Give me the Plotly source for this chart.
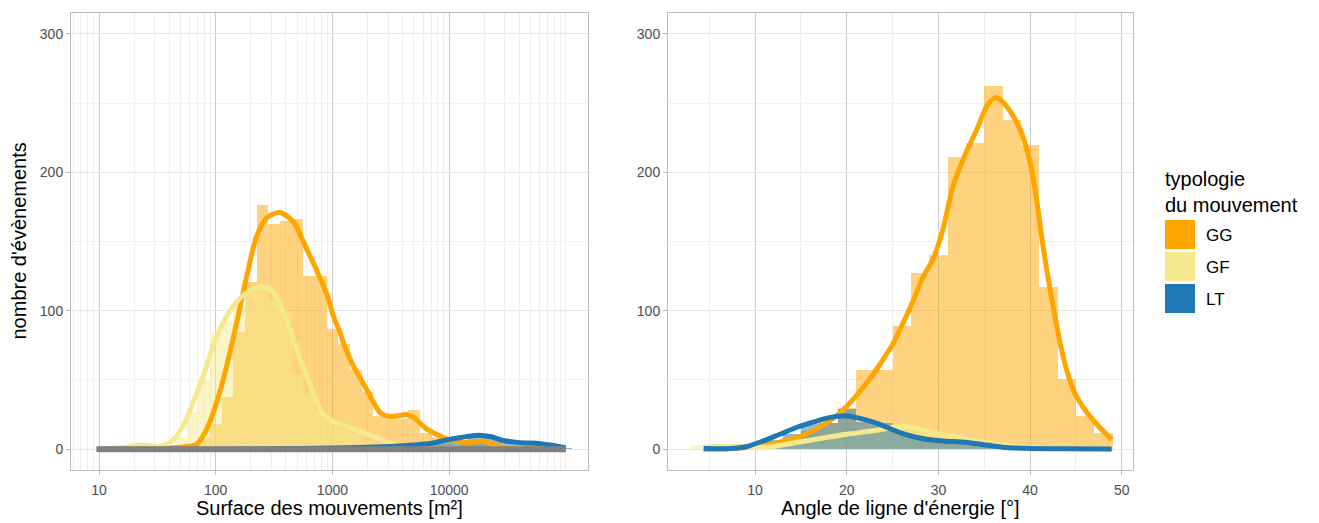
import numpy as np
import plotly.graph_objects as go

# ---------------- DATA ----------------
groups = ["GG", "GF", "LT"]
colors = {"GG": "#FFA500", "GF": "#F5E98E", "LT": "#1F77B4"}

# Left panel: histogram of surface (bin centres in log10(m²), binwidth 0.1)
area_bins = {
    "GG": [1.6, 1.7, 1.8, 1.9, 2.0, 2.1, 2.2, 2.3, 2.4, 2.5, 2.6, 2.7, 2.8, 2.9, 3.0, 3.1, 3.2, 3.3,
           3.4, 3.5, 3.6, 3.7, 3.8, 3.9, 4.0, 4.1, 4.2, 4.3, 4.4, 4.5],
    "GF": [1.3, 1.4, 1.5, 1.6, 1.7, 1.8, 1.9, 2.0, 2.1, 2.2, 2.3, 2.4, 2.5, 2.6, 2.7, 2.8, 2.9, 3.0,
           3.1, 3.2, 3.3, 3.4, 3.5, 3.6],
    "LT": [2.8, 3.2, 3.4, 3.6, 3.8, 3.9, 4.0, 4.1, 4.2, 4.3, 4.4, 4.5, 4.6, 4.7, 4.8, 4.9, 5.0],
}
area_counts = {
    "GG": [1, 1, 3, 8, 18, 38, 85, 121, 176, 163, 165, 166, 125, 125, 87, 76, 57, 41,
           24, 22, 22, 28, 12, 8, 4, 3, 4, 5, 2, 1],
    "GF": [1, 2, 1, 3, 9, 27, 50, 84, 92, 104, 114, 118, 108, 100, 54, 40, 27, 20,
           15, 11, 7, 4, 2, 1],
    "LT": [1, 1, 1, 2, 3, 4, 5, 7, 9, 11, 9, 5, 4, 4, 3, 2, 1],
}
area_binwidth = 0.1

# Left panel: density curves (x in log10(m²), y in counts)
area_dens_x = {
    "GG": [0.98, 1.3, 1.5, 1.64, 1.75, 1.837, 1.923, 2.009, 2.094, 2.18, 2.266, 2.352, 2.437,
           2.551, 2.666, 2.78, 2.866, 2.952, 3.009, 3.066, 3.094, 3.152, 3.18, 3.295, 3.409,
           3.495, 3.55, 3.638, 3.695, 3.81, 3.98, 4.15, 4.28, 4.44, 4.6, 4.8, 5.0],
    "GF": [0.98, 1.2, 1.38, 1.5, 1.608, 1.722, 1.808, 1.894, 1.98, 2.065, 2.151, 2.266, 2.38,
           2.466, 2.551, 2.666, 2.72, 2.78, 2.835, 2.894, 2.923, 3.009, 3.152, 3.295, 3.409,
           3.523, 3.65, 3.8, 4.2, 5.0],
    "LT": [0.98, 2.0, 2.5, 3.0, 3.3, 3.5, 3.7, 3.85, 3.98, 4.1, 4.2, 4.28, 4.36, 4.45, 4.55,
           4.65, 4.75, 4.85, 4.95, 5.0],
}
area_dens_y = {
    "GG": [0, 0, 0.3, 1, 2, 3.6, 14.5, 34, 60, 91.5, 125, 154, 167,
           171, 164, 144.5, 129, 112, 96, 84, 77, 65, 60, 43, 26.5,
           23.6, 24, 25, 23, 14.5, 7.5, 4.8, 6, 2, 0.5, 0.2, 0],
    "GF": [0, 1, 3, 2, 4.8, 17, 34, 53, 75, 91.5, 103.5, 113, 117,
           115.6, 105, 79.5, 66, 53, 41, 29, 25, 20, 15.6, 10.8, 7.2,
           3.6, 1.2, 0.4, 0, 0],
    "LT": [0, 0, 0.3, 0.8, 1.5, 2, 3, 4.3, 6.7, 8.5, 9.8, 10, 9, 6.5, 5.3,
           4.5, 4.3, 3.2, 1.8, 1],
}
area_other_x = [0.98, 5.0]
area_other_y = [0, 0]

area_tickvals = [1, 2, 3, 4]
area_ticktext = ["10", "100", "1000", "10000"]
minor_multipliers = [2, 3, 4, 5, 6, 7, 8, 9]

# Right panel: histogram of energy line angle (bin centres in degrees, binwidth 2)
angle_bins = {
    "GG": [10, 12, 14, 16, 18, 20, 22, 24, 26, 28, 30, 32, 34, 36, 38, 40, 42, 44, 46, 48],
    "GF": [4, 6, 8, 10, 12, 14, 16, 18, 20, 22, 24, 26, 28, 30, 32, 34, 36, 38, 40, 42],
    "LT": [8, 10, 12, 14, 16, 18, 20, 22, 24, 26, 28, 30, 32, 34, 36, 38, 40, 44],
}
angle_counts = {
    "GG": [1, 2, 5, 13, 19, 30, 57, 57, 89, 127, 140, 211, 221, 262, 238, 220, 117, 51, 24, 12],
    "GF": [3, 3, 3, 2, 2, 4, 7, 10, 13, 16, 20, 16, 12, 10, 7, 5, 3, 2, 1, 1],
    "LT": [1, 3, 7, 11, 18, 19, 29, 20, 19, 12, 8, 5, 4, 3, 2, 1, 1, 1],
}
angle_binwidth = 2

angle_dens_x = {
    "GG": [4.4, 7, 9, 10.5, 12.7, 14, 15.6, 17.8, 19.3, 20.7, 22.2, 23.6, 25.1, 26.2, 27.3, 28.3,
           29.4, 30.5, 31.6, 33.1, 34.2, 35.3, 36.25, 37.4, 38.9, 40.0, 40.7, 41.4, 42.5, 43.6,
           44.7, 46.2, 47.6, 48.9],
    "GF": [4.4, 6, 8, 10, 12, 14.5, 17.1, 20, 23.6, 25.5, 27.3, 29.4, 31.2, 33.1, 36.3, 40, 44, 48.9],
    "LT": [4.4, 7.3, 9.1, 10.9, 12.7, 14.5, 16.4, 18.2, 20.0, 21.8, 23.6, 24.7, 25.8, 27.3, 28.7,
           30.5, 33.1, 35.3, 37.4, 40, 44, 48.9],
}
angle_dens_y = {
    "GG": [0, 0.3, 1.2, 2.4, 5, 7.5, 11, 19, 26.5, 36, 48, 61, 77, 92, 108, 124,
           137, 159, 190, 215.5, 231, 248, 254, 248, 231, 207, 180.6, 147, 103.5, 67,
           43, 26.5, 15.7, 7],
    "GF": [1.5, 2, 2, 1.5, 2, 4.8, 7.7, 10.8, 14, 16.5, 15.5, 12, 9.5, 7.2, 3.6, 1.2, 0.4, 0],
    "LT": [0.5, 0.5, 2, 6, 10.8, 15.7, 19.7, 23, 24, 21.7, 18, 15, 12, 9, 7.2,
           6, 4.8, 3, 1.2, 0.6, 0.3, 0.2],
}

y_tickvals = [0, 100, 200, 300]

x_title_left = "Surface des mouvements [m²]"
x_title_right = "Angle de ligne d'énergie [°]"
y_title = "nombre d'évènements"
legend_title = "typologie<br>du mouvement"

# ---------------- FIGURE ----------------
W, H = 1319, 523
FONT = "Liberation Sans, Arial, sans-serif"


def rgba(hex_color, a):
    h = hex_color.lstrip("#")
    r, g, b = int(h[0:2], 16), int(h[2:4], 16), int(h[4:6], 16)
    return f"rgba({r},{g},{b},{a})"


fig = go.Figure()

# histograms
for panel, bins, counts, bw in [("x", area_bins, area_counts, area_binwidth),
                                ("x2", angle_bins, angle_counts, angle_binwidth)]:
    for g in groups:
        fig.add_trace(go.Bar(
            x=bins[g], y=counts[g], width=bw,
            marker=dict(color=rgba(colors[g], 0.5), line=dict(width=0)),
            xaxis=panel, yaxis="y" if panel == "x" else "y2",
            showlegend=False, hoverinfo="skip"))

# density lines
for panel, dx, dy in [("x", area_dens_x, area_dens_y), ("x2", angle_dens_x, angle_dens_y)]:
    for g in groups:
        fig.add_trace(go.Scatter(
            x=dx[g], y=dy[g], mode="lines",
            line=dict(color=colors[g], width=5, shape="spline", smoothing=0.8),
            xaxis=panel, yaxis="y" if panel == "x" else "y2",
            showlegend=False, hoverinfo="skip"))

fig.add_trace(go.Scatter(
    x=area_other_x, y=area_other_y, mode="lines",
    line=dict(color="#7F7F7F", width=6), xaxis="x", yaxis="y",
    showlegend=False, hoverinfo="skip"))

# axes geometry (pixels -> paper)
L1, R1 = 71, 588
L2, R2 = 668, 1133
TOP, BOT = 13, 470
ydom = [(H - BOT) / H, (H - TOP) / H]

minor_left = [float(np.log10(k * 10 ** d)) for d in range(0, 5) for k in minor_multipliers] + [5.0]

tickfont = dict(family=FONT, size=14, color="#4D4D4D")
common_x = dict(showline=True, mirror=True, linecolor="#BDBDBD", linewidth=1,
                ticks="outside", ticklen=4, tickcolor="#BDBDBD", tickfont=tickfont,
                ticklabelstandoff=3,
                showgrid=True, gridcolor="#CDCDCD", gridwidth=1, zeroline=False)
common_y = dict(showline=True, mirror=True, linecolor="#BDBDBD", linewidth=1,
                ticks="outside", ticklen=4, tickcolor="#BDBDBD", tickfont=tickfont,
                showgrid=True, gridcolor="#E6E6E6", gridwidth=1, zeroline=False,
                range=[-15, 315], tickmode="array", tickvals=y_tickvals,
                minor=dict(dtick=50, tick0=0, showgrid=True, gridcolor="#F2F2F2", ticks=""))

fig.update_layout(
    width=W, height=H, autosize=False,
    margin=dict(l=0, r=0, t=0, b=0),
    paper_bgcolor="white", plot_bgcolor="white",
    barmode="overlay", bargap=0,
    showlegend=False,
    font=dict(family=FONT),
    xaxis=dict(domain=[L1 / W, R1 / W], range=[0.76, 5.19], tickmode="array",
               tickvals=area_tickvals, ticktext=area_ticktext,
               minor=dict(tickmode="array", tickvals=minor_left, showgrid=True,
                          gridcolor="#EEEEEE", ticks=""),
               anchor="y", **common_x),
    yaxis=dict(domain=ydom, anchor="x", **common_y),
    xaxis2=dict(domain=[L2 / W, R2 / W], range=[0.51, 51.22], tickmode="linear",
                tick0=0, dtick=10,
                minor=dict(dtick=5, tick0=0, showgrid=True, gridcolor="#EEEEEE", ticks=""),
                anchor="y2", **common_x),
    yaxis2=dict(domain=ydom, anchor="x2", **common_y),
)

ann = []
title_font = dict(family=FONT, size=20, color="black")
ann.append(dict(text=x_title_left, x=(L1 + R1) / 2 / W, y=(H - 508) / H, xref="paper", yref="paper",
                showarrow=False, xanchor="center", yanchor="middle", font=title_font))
ann.append(dict(text=x_title_right, x=(L2 + R2) / 2 / W, y=(H - 508) / H, xref="paper", yref="paper",
                showarrow=False, xanchor="center", yanchor="middle", font=title_font))
ann.append(dict(text=y_title, x=18 / W, y=(H - (TOP + BOT) / 2) / H, xref="paper", yref="paper",
                showarrow=False, xanchor="center", yanchor="middle", textangle=-90, font=title_font))

# manual legend
ann.append(dict(text=legend_title, x=1163 / W, y=(H - 166) / H, xref="paper", yref="paper",
                showarrow=False, xanchor="left", yanchor="top", align="left",
                font=dict(family=FONT, size=20, color="black")))
shapes = []
sw_tops = [220, 252, 284]
for g, t in zip(groups, sw_tops):
    shapes.append(dict(type="rect", xref="paper", yref="paper",
                       x0=1165 / W, x1=1195 / W, y0=(H - (t + 29)) / H, y1=(H - t) / H,
                       fillcolor=colors[g], line=dict(width=0)))
    ann.append(dict(text=g, x=1204 / W, y=(H - (t + 15)) / H, xref="paper", yref="paper",
                    showarrow=False, xanchor="left", yanchor="middle",
                    font=dict(family=FONT, size=17, color="black")))

fig.update_layout(annotations=ann, shapes=shapes)

fig.write_html("out.html", config={"displayModeBar": False},
               post_script="document.body.style.margin='0px';document.body.style.padding='0px';")
